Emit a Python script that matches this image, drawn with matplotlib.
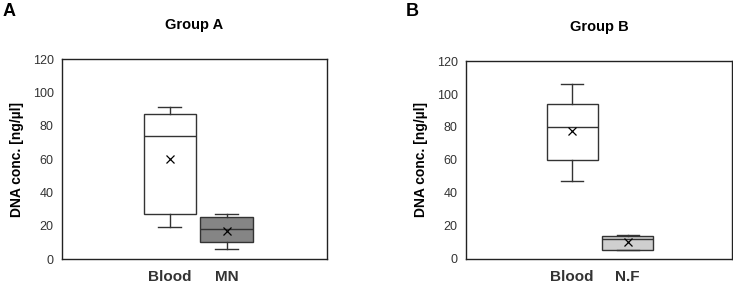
import matplotlib
matplotlib.use("Agg")
import matplotlib.pyplot as plt

plt.rcParams["font.family"] = ["Liberation Sans", "DejaVu Sans"]

# Box statistics (ng/ul)
labels_a = ["Blood", "MN"]
whislo_a = [19, 6]
q1_a = [27, 10]
med_a = [74, 18]
q3_a = [87, 25]
whishi_a = [91, 27]
mean_a = [60, 17]

labels_b = ["Blood", "N.F"]
whislo_b = [47, 5]
q1_b = [60, 5]
med_b = [80, 12]
q3_b = [94, 14]
whishi_b = [106, 14.5]
mean_b = [77.5, 10]

colors_a = ["white", "#858585"]
colors_b = ["white", "#cfcfcf"]


def make_stats(labels, lo, q1, med, q3, hi, mean):
    stats = []
    for i in range(len(labels)):
        stats.append({"label": labels[i], "whislo": lo[i], "q1": q1[i],
                      "med": med[i], "q3": q3[i], "whishi": hi[i],
                      "mean": mean[i], "fliers": []})
    return stats


def draw_panel(ax, stats, colors, title, xlim):
    bp = ax.bxp(stats, positions=[1, 2], widths=0.92, patch_artist=True,
                showmeans=True,
                boxprops=dict(edgecolor="#333333", linewidth=1.0),
                medianprops=dict(color="#333333", linewidth=1.0),
                whiskerprops=dict(color="#333333", linewidth=1.0),
                capprops=dict(color="#333333", linewidth=1.0),
                meanprops=dict(marker="x", markeredgecolor="black",
                               markersize=6, markeredgewidth=0.9))
    for patch, c in zip(bp["boxes"], colors):
        patch.set_facecolor(c)
    # shorter caps than the box
    for cap in bp["caps"]:
        x0, x1 = cap.get_xdata()
        mid = (x0 + x1) / 2
        cap.set_xdata([mid - 0.2, mid + 0.2])

    ax.set_ylim(0, 120)
    ax.set_yticks(range(0, 121, 20))
    ax.set_xlim(*xlim)
    ax.tick_params(axis="y", length=0, labelsize=9, pad=6, colors="#333333")
    ax.tick_params(axis="x", length=0, labelsize=11, pad=8)
    for lab in ax.get_xticklabels():
        lab.set_fontweight("bold")
        lab.set_color("#333333")
    for sp in ax.spines.values():
        sp.set_color("#222222")
        sp.set_linewidth(1.0)
    ax.set_ylabel("DNA conc. [ng/\u00b5l]", fontsize=10, fontweight="bold",
                  labelpad=6)
    ax.set_title(title, fontsize=10.5, fontweight="bold", pad=22)


fig = plt.figure(figsize=(7.33, 2.84), dpi=100)
ax_a = fig.add_axes([0.0846, 0.088, 0.3615, 0.704])
ax_b = fig.add_axes([0.6357, 0.089, 0.3625, 0.696])

draw_panel(ax_a, make_stats(labels_a, whislo_a, q1_a, med_a, q3_a, whishi_a, mean_a),
           colors_a, "Group A", (-0.89, 3.76))
draw_panel(ax_b, make_stats(labels_b, whislo_b, q1_b, med_b, q3_b, whishi_b, mean_b),
           colors_b, "Group B", (-0.91, 3.87))

fig.text(0.003, 0.99, "A", fontsize=13, fontweight="bold", va="top", ha="left")
fig.text(0.553, 0.99, "B", fontsize=13, fontweight="bold", va="top", ha="left")

fig.savefig("out.png", dpi=100)
